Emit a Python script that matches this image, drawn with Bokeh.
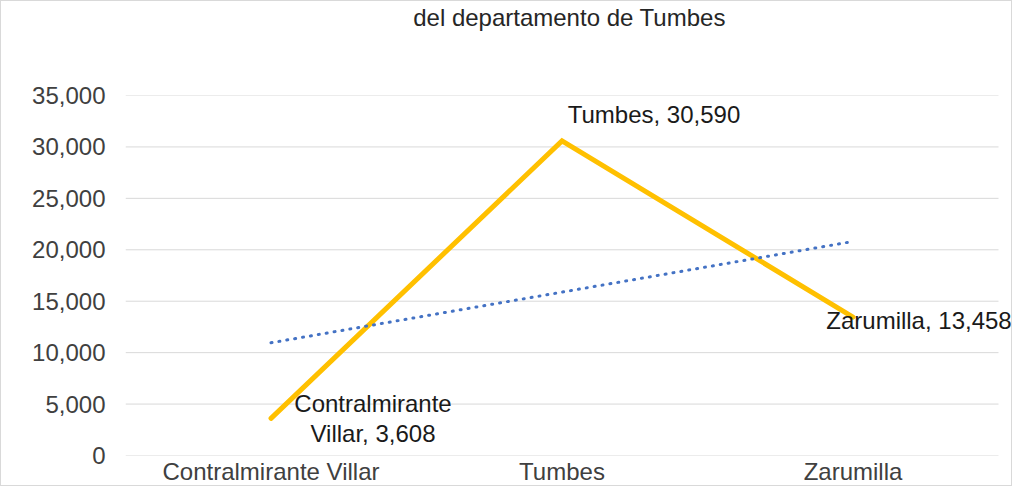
import numpy as np
from bokeh.plotting import figure
from bokeh.models import (Range1d, NumeralTickFormatter, FixedTicker,
                          Label, Title)
from bokeh.embed import file_html
from bokeh.resources import INLINE

# ---- data ----
title_text = "del departamento de Tumbes"
categories = ["Contralmirante Villar", "Tumbes", "Zarumilla"]
population = [3608, 30590, 13458]
label_names = ["Contralmirante\nVillar", "Tumbes", "Zarumilla"]
y_ticks = [0, 5000, 10000, 15000, 20000, 25000, 30000, 35000]

# category centres on a numeric axis (one unit per category)
xpos = [i + 0.5 for i in range(len(categories))]

# linear trend line (Excel-style) fitted to the series
xi = np.arange(len(population))
slope, intercept = np.polyfit(xi, population, 1)
trend = list(intercept + slope * xi)

FONT = "Liberation Sans"

W, H = 1012, 486
LEFT, RIGHT = 124, 0
cat_px = 291.0                       # pixel width of one category band
frame_w = W - LEFT - RIGHT
p = figure(
    width=W, height=H,
    x_range=Range1d(0, frame_w / cat_px),
    y_range=Range1d(y_ticks[0], y_ticks[-1]),
    output_backend="svg", toolbar_location=None,
    min_border_left=LEFT, min_border_right=RIGHT,
    min_border_top=94, min_border_bottom=31,
)
p.styles = {"border": "1px solid #d9d9d9"}

# real title at the top of the chart, blank spacer title next to the frame
p.title.text = title_text
p.title.align = "center"
p.title.offset = -22
p.title.text_font = FONT
p.title.text_font_size = "24px"
p.title.text_font_style = "normal"
p.title.text_color = "#262626"
p.title.standoff = 0
p.add_layout(Title(text=" ", text_font_size="24px", standoff=36), "above")

p.outline_line_color = None
p.background_fill_color = "white"
p.border_fill_color = "white"

# axes
p.yaxis.ticker = FixedTicker(ticks=y_ticks)
p.yaxis.formatter = NumeralTickFormatter(format="0,0")
p.xaxis.ticker = FixedTicker(ticks=xpos)
p.xaxis.major_label_overrides = {x: c for x, c in zip(xpos, categories)}
for ax in (p.xaxis[0], p.yaxis[0]):
    ax.axis_line_color = None
    ax.major_tick_line_color = None
    ax.minor_tick_line_color = None
    ax.major_tick_out = 0
    ax.major_tick_in = 0
    ax.minor_tick_out = 0
    ax.minor_tick_in = 0
    ax.major_label_text_font = FONT
    ax.major_label_text_font_size = "24px"
    ax.major_label_text_color = "#404040"
p.yaxis.major_label_standoff = 20
p.xaxis.major_label_standoff = 2

# horizontal gridlines spanning only the category area
p.xgrid.grid_line_color = None
p.ygrid.grid_line_color = None
p.segment(x0=[0] * len(y_ticks), x1=[len(categories)] * len(y_ticks),
          y0=y_ticks, y1=y_ticks, line_color="#d9d9d9", line_width=1)

# main series
p.line(x=xpos, y=population, line_color="#FFC000", line_width=5,
       line_join="miter", line_cap="round")

# trend line
p.line(x=xpos, y=trend, line_color="#4472C4", line_width=3,
       line_dash="1 7", line_cap="round")

# data labels
labels = [f"{n}, {v:,}" for n, v in zip(label_names, population)]
label_dx = [102, 92, 66]
label_dy = [0, 26, -3]
for i, (txt, v) in enumerate(zip(labels, population)):
    p.add_layout(Label(
        x=xpos[i], y=v, text=txt,
        x_offset=label_dx[i], y_offset=label_dy[i],
        text_align="center", text_baseline="middle",
        text_font=FONT, text_font_size="24px", text_color="#1a1a1a",
        text_line_height=1.1,
    ))

open("out.html", "w").write(file_html(p, INLINE))
